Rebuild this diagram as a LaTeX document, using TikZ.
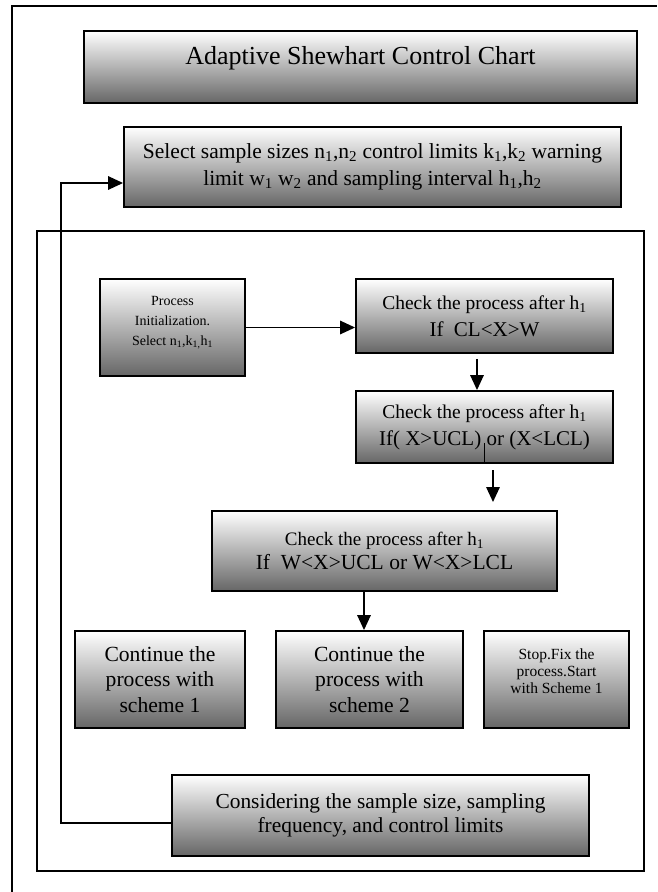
\documentclass[tikz,border=0pt]{standalone}
\usepackage{fontspec}
\setmainfont{Liberation Serif}
\usetikzlibrary{arrows.meta,calc}
\newcommand\myfs[2]{\fontsize{#1}{#2}\selectfont}
\begin{document}
\begin{tikzpicture}[x=1pt,y=-1pt,
 box/.style={draw=black, line width=1.9pt, top color=white, bottom color=black!60, inner sep=0pt, align=center},
 conn/.style={line width=1.6pt, draw=black},
 arr/.style={conn, -{Triangle[length=15pt,width=13.5pt]}},
 frame/.style={line width=1.3pt, draw=black}]
\useasboundingbox (0,0) rectangle (657,892);
\fill[white] (0,0) rectangle (657,892);
% frames
\draw[frame] (12,892) -- (12,6) -- (657,6);
\draw[frame] (37,231) rectangle (644,871);
% boxes
\node[box, minimum width=553pt, minimum height=72pt, font=\myfs{26}{30}] (title) at (360.5,67)
  {Adaptive Shewhart Control Chart\rule[-23pt]{0pt}{0pt}};
\node[box, minimum width=497pt, minimum height=80pt, font=\myfs{21.5}{27}] (select) at (372.5,167)
  {Select sample sizes n\textsubscript{1},n\textsubscript{2} control limits k\textsubscript{1},k\textsubscript{2} warning\\
   limit w\textsubscript{1} w\textsubscript{2} and sampling interval h\textsubscript{1},h\textsubscript{2}};
\node[box, minimum width=145pt, minimum height=97pt, font=\myfs{14}{20}] (proc) at (172.5,327.5)
  {Process\\Initialization.\\Select n\textsubscript{1},k\textsubscript{1,}h\textsubscript{1}\rule[-14pt]{0pt}{0pt}};
\node[box, minimum width=257pt, minimum height=74pt, font=\myfs{21}{27}] (check1) at (484.5,316)
  {{\myfs{19.5}{27}Check the process after h\textsubscript{1}}\\If\ \ CL<X>W};
\node[box, minimum width=257pt, minimum height=72pt, font=\myfs{21}{27}] (check2) at (484.5,427)
  {{\myfs{19.5}{27}Check the process after h\textsubscript{1}}\\If( X>UCL) or (X<LCL)};
\node[box, minimum width=345pt, minimum height=80pt, font=\myfs{21.5}{24.5}] (check3) at (384.5,551)
  {{\myfs{19}{24.5}Check the process after h\textsubscript{1}}\\If\ \ W<X>UCL or W<X>LCL};
\node[box, minimum width=170pt, minimum height=97pt, font=\myfs{21.6}{25.6}] (cont1) at (160,679.5)
  {Continue the\\process with\\scheme 1};
\node[box, minimum width=187pt, minimum height=97pt, font=\myfs{21.6}{25.6}] (cont2) at (369.5,679.5)
  {Continue the\\process with\\scheme 2};
\node[box, minimum width=145pt, minimum height=97pt, font=\myfs{15.5}{17}] (stop) at (556.5,679.5)
  {Stop.Fix the\\process.Start\\with Scheme 1\rule[-17pt]{0pt}{0pt}};
\node[box, minimum width=417pt, minimum height=81pt, font=\myfs{21.4}{24}] (consider) at (380.5,815.5)
  {Considering the sample size, sampling\\frequency, and control limits};
% connectors
\draw[arr] (proc.east) -- (proc.east -| check1.west);
\draw[arr] ([xshift=-7.5pt,yshift=-5pt]check1.south) -- ([xshift=-7.5pt]check1.south |- check2.north);
\draw[conn] ([yshift=21pt]check2.south) -- (check2.south);
\coordinate (c3a) at (493,470);
\coordinate (c3b) at (493,502);
\draw[arr] (c3a) -- (c3b);
\draw[arr] ([xshift=-20.5pt]check3.south) -- ([xshift=-20.5pt]check3.south |- cont2.north);
\coordinate (loopx) at (61,183);
\draw[arr] ([yshift=-7.5pt]consider.west) -| (loopx) -- (loopx -| select.west);
\end{tikzpicture}
\end{document}
